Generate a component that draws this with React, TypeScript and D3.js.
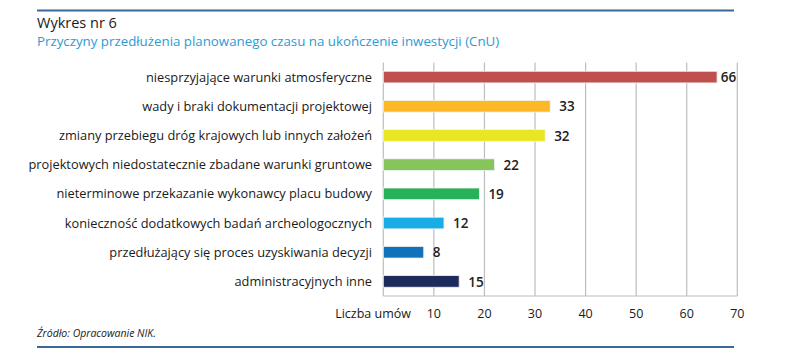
import React from "react";
import * as d3 from "d3";

const categories = [
  "niesprzyjające warunki atmosferyczne",
  "wady i braki dokumentacji projektowej",
  "zmiany przebiegu dróg krajowych lub innych założeń",
  "projektowych niedostatecznie zbadane warunki gruntowe",
  "nieterminowe przekazanie wykonawcy placu budowy",
  "konieczność dodatkowych badań archeologocznych",
  "przedłużający się proces uzyskiwania decyzji",
  "administracyjnych inne",
];
const values = [66, 33, 32, 22, 19, 12, 8, 15];
const colors = ["#c0504d", "#fdb827", "#e9e723", "#86c55b", "#27b25a", "#19ace5", "#1171bb", "#1c2b5b"];
const ticks = [10, 20, 30, 40, 50, 60, 70];
const axisTitle = "Liczba umów";
const title = "Wykres nr 6";
const subtitle = "Przyczyny przedłużenia planowanego czasu na ukończenie inwestycji (CnU)";
const source = "Źródło: Opracowanie NIK.";

const W = 786, H = 355;
const left = 383.3, right = 737.3, top = 62.5, bottom = 296;
const font = "'Open Sans', sans-serif";

export default function App() {
  const x = d3.scaleLinear().domain([0, 70]).range([left, right]);
  const y = d3.scaleBand<string>().domain(categories).range([top, bottom]).paddingInner(0.6).paddingOuter(0.3);
  return (
    <svg width={W} height={H} style={{ position: "absolute", left: 0, top: 0, background: "#fff" }} fontFamily={font}>
      <line x1={37} x2={734} y1={10.5} y2={10.5} stroke="#3b6896" strokeWidth={2.2} />
      <text x={37} y={28} fontSize={14.5} fill="#1a1a1a">{title}</text>
      <text x={37} y={46} fontSize={13.3} fill="#2b9bd6">{subtitle}</text>
      {ticks.map((t) => (
        <line key={t} x1={x(t)} x2={x(t)} y1={top} y2={bottom} stroke="#bdbdbd" strokeWidth={1.2} />
      ))}
      <line x1={left} x2={left} y1={top} y2={bottom} stroke="#bdbdbd" strokeWidth={1.2} />
      <line x1={left} x2={right} y1={bottom} y2={bottom} stroke="#bdbdbd" strokeWidth={1.2} />
      {categories.map((c, i) => {
        const yy = y(c)!;
        const bw = y.bandwidth();
        const xe = x(values[i]);
        const fit = xe + 9 + 17 <= right;
        return (
          <g key={c}>
            <rect x={x(0)} y={yy} width={xe - x(0)} height={bw} fill={colors[i]} stroke="#f3f3f3" strokeWidth={0.8} />
            <text x={372} y={yy + bw / 2} dy="0.35em" textAnchor="end" fontSize={12.8} fill="#1a1a1a">{c}</text>
            <text x={fit ? xe + 9 : right - 1} y={yy + bw / 2} dy="0.38em" textAnchor={fit ? "start" : "end"} fontSize={13.5} fontWeight={600} fill="#222">{values[i]}</text>
          </g>
        );
      })}
      {ticks.map((t) => (
        <text key={t} x={x(t)} y={318} textAnchor="middle" fontSize={12.5} fill="#1a1a1a">{t}</text>
      ))}
      <text x={411} y={318} textAnchor="end" fontSize={12.5} fill="#1a1a1a">{axisTitle}</text>
      <text x={37} y={337} fontSize={10.5} fontStyle="italic" fill="#1a1a1a">{source}</text>
      <line x1={37} x2={734} y1={347} y2={347} stroke="#3b6896" strokeWidth={2.2} />
    </svg>
  );
}
